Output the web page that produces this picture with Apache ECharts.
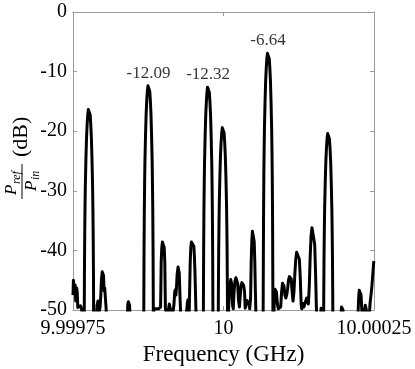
<!DOCTYPE html>
<html>
<head>
<meta charset="utf-8">
<script src="https://cdn.jsdelivr.net/npm/echarts@6.0.0/dist/echarts.min.js"></script>
<style>
  html, body { margin: 0; padding: 0; background: #fff; }
  #chart { width: 415px; height: 369px; }
</style>
</head>
<body>
<div id="chart"></div>
<script>
// frequency offset from 10 GHz in kHz
var freqKHz = [
  -250, -249.3, -248.3, -247.3, -246.5, -245.5, -244, -243, -242, -240.5, -239, -237.5, -236, -234, -232.5,
  -231.5, -231, -230.5, -230, -229.5, -228.5, -227.5, -226.5, -225.5, -224.5, -223.5,
  -222.5, -221.5, -220.5, -219.5, -218.5, -217.5, -217, -216.5, -216, -215.5,
  -213, -211, -210, -208.5, -207.3, -206.3, -205, -203.8, -202.8, -201.5, -200.3, -199.3, -198.3, -197.3, -196.3, -195, -193.5, -192,
  -162, -160, -159, -158, -157, -156, -155, -153, -134,
  -132.5, -132, -131.5, -131, -130.5, -129.5, -128.5, -127.5, -126.5, -125.5, -124.5,
  -123.5, -122.5, -121.5, -120.5, -119.5, -118.5, -118, -117.5, -117, -116.5,
  -115.5, -114, -112, -110, -108, -106, -104.5, -104, -103.5, -102.5, -101.5, -100.5, -99.5, -98.5, -97.5, -97, -96.5,
  -95, -93, -91.5, -90, -88.5, -87, -86, -85, -83.5, -82.5, -81, -80, -79, -78, -77, -75.5, -74.5, -73.5, -72.5, -71.5, -70.5, -68,
  -63, -61.5, -60, -59, -58, -57, -56.3, -55.3, -54.3, -53.3, -51.8, -50.3, -49.3, -48.3, -47.3, -46.3, -45.3, -43.5, -35,
  -33.5, -33, -32.5, -32, -31.5, -30.5, -29.5, -28.5, -27.5, -26.5, -25.5,
  -24.5, -23.5, -22.5, -21.5, -20.5, -19.5, -19, -18.5, -18, -17.5, -16, -11,
  -9, -8.5, -8, -7.5, -7, -6, -5, -4, -3, -2, -1, 0, 1, 2, 3, 4, 5, 5.5, 6, 6.5, 7,
  8.5, 9.5, 10.5, 12, 13, 14, 15.2, 16.2, 17.5, 19, 20.5, 22, 23.5, 25, 26.5, 27.5, 29, 30.5, 32, 33, 34, 35, 36,
  37.5, 39, 40.5, 42, 43.5, 45, 46, 47, 48, 49, 50, 51, 52, 53, 53.8, 55, 58, 64,
  65.5, 66, 66.5, 67, 67.5, 68, 69, 70, 71, 72, 73, 74, 75, 76, 77, 78, 79, 80, 80.5, 81, 81.5, 82, 82.5,
  83.5, 84.5, 85.5, 86.7, 88, 89.5, 91, 93, 95, 96.5, 98, 99, 100.5, 102, 103.5, 105, 106.5, 108, 109.5, 111, 112.5, 114,
  115.5, 117, 118.5, 120, 121.5, 123, 124.5, 126, 127.5, 129, 130, 131.5, 132.5, 133.5, 135, 136.5, 138, 139.5, 141,
  142.5, 144, 145.5, 147, 148.6, 150, 151.5, 153, 154.3, 156, 158, 160, 162, 164,
  166, 166.5, 167, 167.5, 168, 169, 170, 171, 172, 173, 174, 175, 176, 177, 178, 179, 180, 180.5, 181, 181.5, 182,
  183, 194.5, 196, 197, 198.5, 200, 205, 221, 223, 224.5, 225.5, 227, 228.5, 230, 232, 234.5, 235.5, 237, 238.5,
  240.5, 242.5, 243.5, 245, 246.5, 248, 249.5, 250
];
var refDb = [
  -47.5, -45, -44.9, -46.8, -45.8, -48.5, -46.3, -47, -49.6, -49.3, -49.7, -49.3, -49.7, -49.8, -52,
  -56.05, -44.05, -37.05, -32.55, -29.05, -24.55, -21.05, -18.85, -17.25, -16.35, -16.05,
  -16.35, -17.25, -18.85, -21.05, -24.55, -29.05, -32.55, -37.05, -44.05, -56.05,
  -60, -51, -49.2, -48.5, -49.3, -50.2, -49.5, -47.5, -45, -43.6, -43.4, -44.2, -46.8, -46.3, -47.8, -49.7, -55, -62,
  -62, -52, -49, -48.6, -48.6, -49.2, -52, -62, -62,
  -52.09, -40.09, -33.09, -28.59, -25.09, -20.59, -17.09, -14.89, -13.29, -12.39, -12.09,
  -12.39, -13.29, -14.89, -17.09, -20.59, -25.09, -28.59, -33.09, -40.09, -52.09,
  -49.8, -49.6, -49.8, -49.6, -49.8, -49.7, -49.5, -46, -42, -39.5, -38.6, -38.3, -38.6, -39.5, -42, -46, -49.7,
  -50.5, -52, -50, -49, -48.8, -49.3, -51, -52, -50, -49.3, -47, -46.6, -47.5, -46, -44, -42.8, -42.7, -43.8, -47, -49.8, -55, -62,
  -62, -50.5, -48.8, -48.3, -49, -50.5, -47, -42, -39.5, -38.6, -38.3, -38.5, -39.3, -41, -44, -48, -52, -62, -62,
  -52.32, -40.32, -33.32, -28.82, -25.32, -20.82, -17.32, -15.12, -13.52, -12.62, -12.32,
  -12.62, -13.52, -15.12, -17.32, -20.82, -25.32, -28.82, -33.32, -40.32, -52.32, -62, -62,
  -59.1, -47.1, -40.1, -35.6, -32.1, -27.6, -24.1, -21.9, -20.3, -19.4, -19.08, -19.4, -20.3, -21.9, -24.1, -27.6, -32.1, -35.6, -40.1, -47.1, -59.1,
  -49.7, -48, -46, -44.9, -44.8, -45.8, -49.3, -49.8, -47, -45.2, -44.6, -44.5, -45.5, -48.5, -49.5, -48, -46, -45.4, -45.3, -45.8, -46.2, -47, -49.7,
  -49, -48.4, -48.3, -49, -49.8, -48, -42, -38.5, -36.8, -36.5, -36.8, -38.5, -42, -47, -50.5, -56, -62, -62,
  -60, -46.64, -34.64, -27.64, -23.14, -19.64, -15.14, -11.64, -9.44, -7.84, -6.94, -6.64, -6.94, -7.84, -9.44, -11.64, -15.14, -19.64, -23.14, -27.64, -34.64, -46.64, -60,
  -52, -48, -46.5, -46.2, -47, -49, -49.8, -49.7, -49.5, -47, -45.5, -45.3, -46, -47.5, -48, -47.5, -46.5, -45, -44.4, -44.2, -44.8, -47,
  -48.5, -47, -44, -41.5, -40.3, -40, -40.2, -41.5, -44.5, -49, -49.8, -49.5, -48.9, -49.5, -49.7, -48.5, -48, -48.3, -49,
  -46, -41, -37.5, -36.2, -35.9, -36.5, -39, -44, -49.7, -49.7, -56, -60, -49.7, -49.7,
  -60, -48.1, -41.1, -36.6, -33.1, -28.6, -25.1, -22.9, -21.3, -20.4, -20.08, -20.4, -21.3, -22.9, -25.1, -28.6, -33.1, -36.6, -41.1, -48.1, -60,
  -62, -52, -49.5, -49.2, -50, -55, -62, -62, -52, -48, -46.7, -46.5, -47.5, -50.5, -52, -50, -49.2, -49.3, -50.5,
  -52, -50.5, -48.8, -47.5, -46, -44, -42, -41.8
];

// annotated peaks
var peakKHz = [-124.5, -25.5, 74];
var peakDb = [-12.09, -12.32, -6.64];

var xTickKHz = [-250, 0, 250];
var xTickLabels = ['9.99975', '10', '10.00025'];

var serif = '"Liberation Serif", "Times New Roman", serif';
var axisColor = '#9a9a9a';

var lineData = [];
for (var i = 0; i < freqKHz.length; i++) {
  lineData.push([freqKHz[i], refDb[i]]);
}
var peakData = [];
for (var j = 0; j < peakKHz.length; j++) {
  peakData.push([peakKHz[j], peakDb[j]]);
}

var chart = echarts.init(document.getElementById('chart'));

function boxAxis(pos, showLabel) {
  return {
    type: 'value',
    position: pos,
    axisLine: { show: true, onZero: false, lineStyle: { color: axisColor, width: 1 } },
    axisTick: { show: true, inside: true, length: 4, lineStyle: { color: axisColor } },
    splitLine: { show: false },
    axisLabel: { show: showLabel }
  };
}

var xBottom = boxAxis('bottom', true);
xBottom.min = -250; xBottom.max = 250; xBottom.interval = 250;
xBottom.axisLabel = {
  show: true, margin: 9, color: '#000', fontFamily: serif, fontSize: 20,
  showMinLabel: true, showMaxLabel: true,
  formatter: function (v) {
    var k = xTickKHz.indexOf(v);
    return k >= 0 ? xTickLabels[k] : '';
  }
};
xBottom.name = 'Frequency (GHz)';
xBottom.nameLocation = 'middle';
xBottom.nameGap = 30;
xBottom.nameTextStyle = { color: '#000', fontFamily: serif, fontSize: 23 };

var xTop = boxAxis('top', false);
xTop.min = -250; xTop.max = 250; xTop.interval = 250;

var yLeft = boxAxis('left', true);
yLeft.min = -50; yLeft.max = 0; yLeft.interval = 10;
yLeft.axisLabel = { show: true, margin: 6, color: '#000', fontFamily: serif, fontSize: 20, showMinLabel: true, showMaxLabel: true };

var yRight = boxAxis('right', false);
yRight.min = -50; yRight.max = 0; yRight.interval = 10;

var option = {
  animation: false,
  backgroundColor: '#fff',
  grid: { left: 73, right: 41, top: 12, bottom: 59, containLabel: false, outerBoundsMode: 'none' },
  xAxis: [xBottom, xTop],
  yAxis: [yLeft, yRight],
  graphic: [{
    type: 'group',
    x: 22,
    y: 161,
    rotation: Math.PI / 2,
    children: [
      { type: 'line', shape: { x1: -38, y1: 0, x2: -3, y2: 0 }, style: { stroke: '#000', lineWidth: 1 } },
      { type: 'text', x: -34, y: -2, style: { text: 'P', font: 'italic 17px ' + serif, fill: '#000', textAlign: 'left', textVerticalAlign: 'bottom' } },
      { type: 'text', x: -23, y: 1, style: { text: 'ref', font: 'italic 12px ' + serif, fill: '#000', textAlign: 'left', textVerticalAlign: 'bottom' } },
      { type: 'text', x: -30, y: 1, style: { text: 'P', font: 'italic 17px ' + serif, fill: '#000', textAlign: 'left', textVerticalAlign: 'top' } },
      { type: 'text', x: -19, y: 8, style: { text: 'in', font: 'italic 12px ' + serif, fill: '#000', textAlign: 'left', textVerticalAlign: 'top' } },
      { type: 'text', x: 4, y: -1, style: { text: '(dB)', font: '22px ' + serif, fill: '#000', textAlign: 'left', textVerticalAlign: 'middle' } }
    ]
  }],
  series: [
    {
      type: 'line',
      data: lineData,
      xAxisIndex: 0,
      yAxisIndex: 0,
      symbol: 'none',
      clip: true,
      lineStyle: { color: '#000', width: 3, join: 'round' },
      z: 3
    },
    {
      type: 'scatter',
      data: peakData,
      xAxisIndex: 0,
      yAxisIndex: 0,
      symbolSize: 1,
      itemStyle: { color: 'rgba(0,0,0,0)' },
      label: {
        show: true,
        position: 'top',
        distance: 2,
        color: '#000',
        fontFamily: serif,
        fontSize: 17,
        formatter: function (p) { return p.value[1].toFixed(2); }
      },
      z: 4
    }
  ]
};

chart.setOption(option);
</script>
</body>
</html>
